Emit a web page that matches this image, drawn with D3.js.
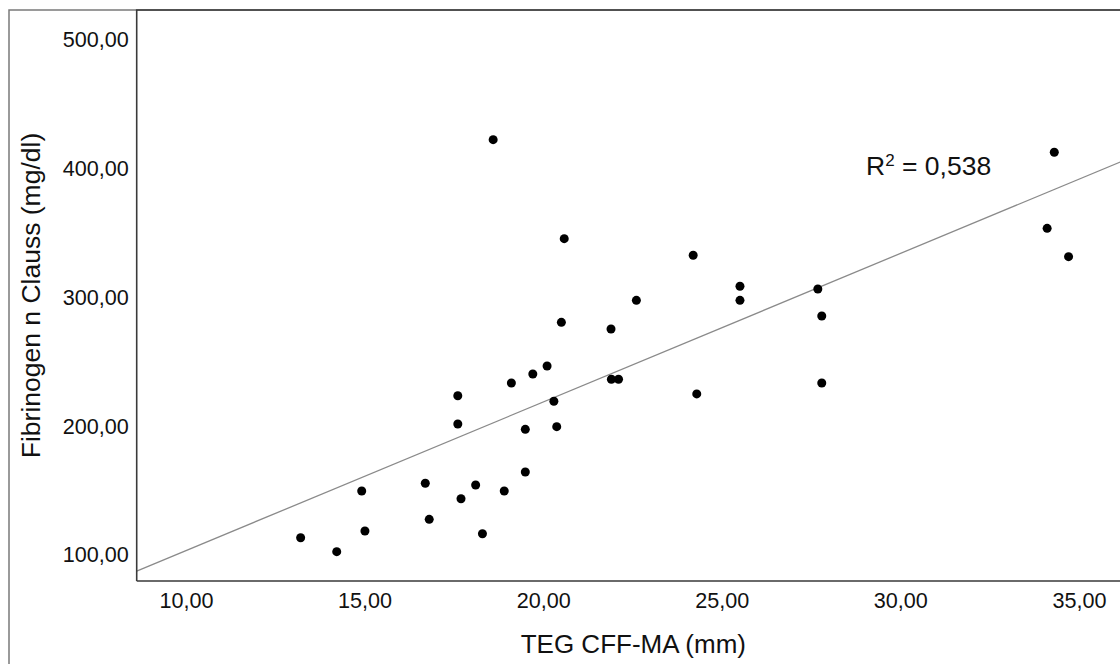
<!DOCTYPE html>
<html>
<head>
<meta charset="utf-8">
<script src="https://cdn.jsdelivr.net/npm/d3@7"></script>
<style>
  html, body { margin: 0; padding: 0; background: #fff; }
  svg { display: block; font-family: "Liberation Sans", Arial, sans-serif; }
</style>
</head>
<body>
<svg id="chart" width="1120" height="664"></svg>
<script>
// ---- data ----
const cffMA = [13.21, 14.22, 14.92, 15.01, 16.70, 16.81, 17.61, 17.61, 17.70, 18.11,
               18.30, 18.91, 19.11, 19.50, 19.50, 19.71, 20.11, 20.30, 20.38, 18.60,
               20.59, 20.51, 22.61, 21.90, 24.20, 25.51, 25.51, 27.69, 27.80, 21.91,
               22.11, 24.30, 27.80, 34.31, 34.11, 34.71];
const fibrinogen = [113.4, 102.6, 149.7, 118.6, 155.7, 127.7, 223.7, 201.7, 143.7, 154.4,
                    116.5, 149.7, 233.6, 197.6, 164.5, 240.6, 246.8, 219.4, 199.7, 422.6,
                    345.7, 280.7, 297.8, 275.5, 332.8, 308.7, 297.8, 306.6, 285.6, 236.5,
                    236.5, 225.1, 233.6, 412.8, 353.7, 331.7];
const fitLine = { intercept: -12.0, slope: 11.54 };   // linear fit drawn in the reference
const rSquared = "0,538";
const xTicks = [10, 15, 20, 25, 30, 35];
const yTicks = [100, 200, 300, 400, 500];
const xDomain = [8.62, 36.43];
const yDomain = [79.8, 523.3];
const xTitle = "TEG CFF-MA (mm)";
const yTitle = "Fibrinogen n Clauss (mg/dl)";

// ---- layout ----
const svg = d3.select("#chart");
const plot = { left: 136.7, top: 10, right: 1130, bottom: 581 };

const x = d3.scaleLinear().domain(xDomain).range([plot.left, plot.right]);
const y = d3.scaleLinear().domain(yDomain).range([plot.bottom, plot.top]);

const locale = d3.formatLocale({ decimal: ",", thousands: ".", grouping: [3], currency: ["", ""] });
const fmt = locale.format(".2f");

// outer frame
svg.append("path")
  .attr("d", `M9,664 L9,10 L1120,10`)
  .attr("fill", "none").attr("stroke", "#7a7a7a").attr("stroke-width", 1.5);

// clip
svg.append("clipPath").attr("id", "clip")
  .append("rect").attr("x", plot.left).attr("y", plot.top)
  .attr("width", plot.right - plot.left).attr("height", plot.bottom - plot.top);

// regression line
const xs = [xDomain[0], xDomain[1]];
svg.append("line")
  .attr("clip-path", "url(#clip)")
  .attr("x1", x(xs[0])).attr("y1", y(fitLine.intercept + fitLine.slope * xs[0]))
  .attr("x2", x(xs[1])).attr("y2", y(fitLine.intercept + fitLine.slope * xs[1]))
  .attr("stroke", "#8a8a8a").attr("stroke-width", 1.3);

// points
svg.append("g").attr("clip-path", "url(#clip)")
  .selectAll("circle")
  .data(cffMA.map((d, i) => [d, fibrinogen[i]]))
  .join("circle")
  .attr("cx", d => x(d[0]))
  .attr("cy", d => y(d[1]))
  .attr("r", 4.5)
  .attr("fill", "#000");

// plot frame
svg.append("path")
  .attr("d", `M${plot.left},${plot.bottom} L${plot.left},${plot.top} L1120,${plot.top} M${plot.left},${plot.bottom} L1120,${plot.bottom}`)
  .attr("fill", "none").attr("stroke", "#3a3a3a").attr("stroke-width", 1.6);

// axes
const xAxis = svg.append("g")
  .attr("transform", `translate(0,${plot.bottom})`)
  .call(d3.axisBottom(x).tickValues(xTicks).tickFormat(fmt).tickSize(0).tickPadding(12));
const yAxis = svg.append("g")
  .attr("transform", `translate(${plot.left},0)`)
  .call(d3.axisLeft(y).tickValues(yTicks).tickFormat(fmt).tickSize(0).tickPadding(8));
[xAxis, yAxis].forEach(g => {
  g.select(".domain").remove();
  g.selectAll("text")
    .attr("font-family", "Liberation Sans, Arial, sans-serif")
    .attr("font-size", 21.6)
    .attr("fill", "#111");
});

// axis titles
svg.append("text")
  .attr("x", (plot.left + plot.right) / 2)
  .attr("y", 653)
  .attr("text-anchor", "middle")
  .attr("font-size", 26)
  .attr("fill", "#111")
  .text(xTitle);

svg.append("text")
  .attr("transform", `translate(40,${(plot.top + plot.bottom) / 2}) rotate(-90)`)
  .attr("text-anchor", "middle")
  .attr("font-size", 26.5)
  .attr("fill", "#111")
  .text(yTitle);

// R² annotation
const rt = svg.append("text")
  .attr("x", 866)
  .attr("y", 175)
  .attr("font-size", 26.5)
  .attr("fill", "#111");
rt.append("tspan").text("R");
rt.append("tspan").attr("font-size", 17).attr("dy", -9).text("2");
rt.append("tspan").attr("dy", 9).text(" = " + rSquared);
</script>
</body>
</html>
